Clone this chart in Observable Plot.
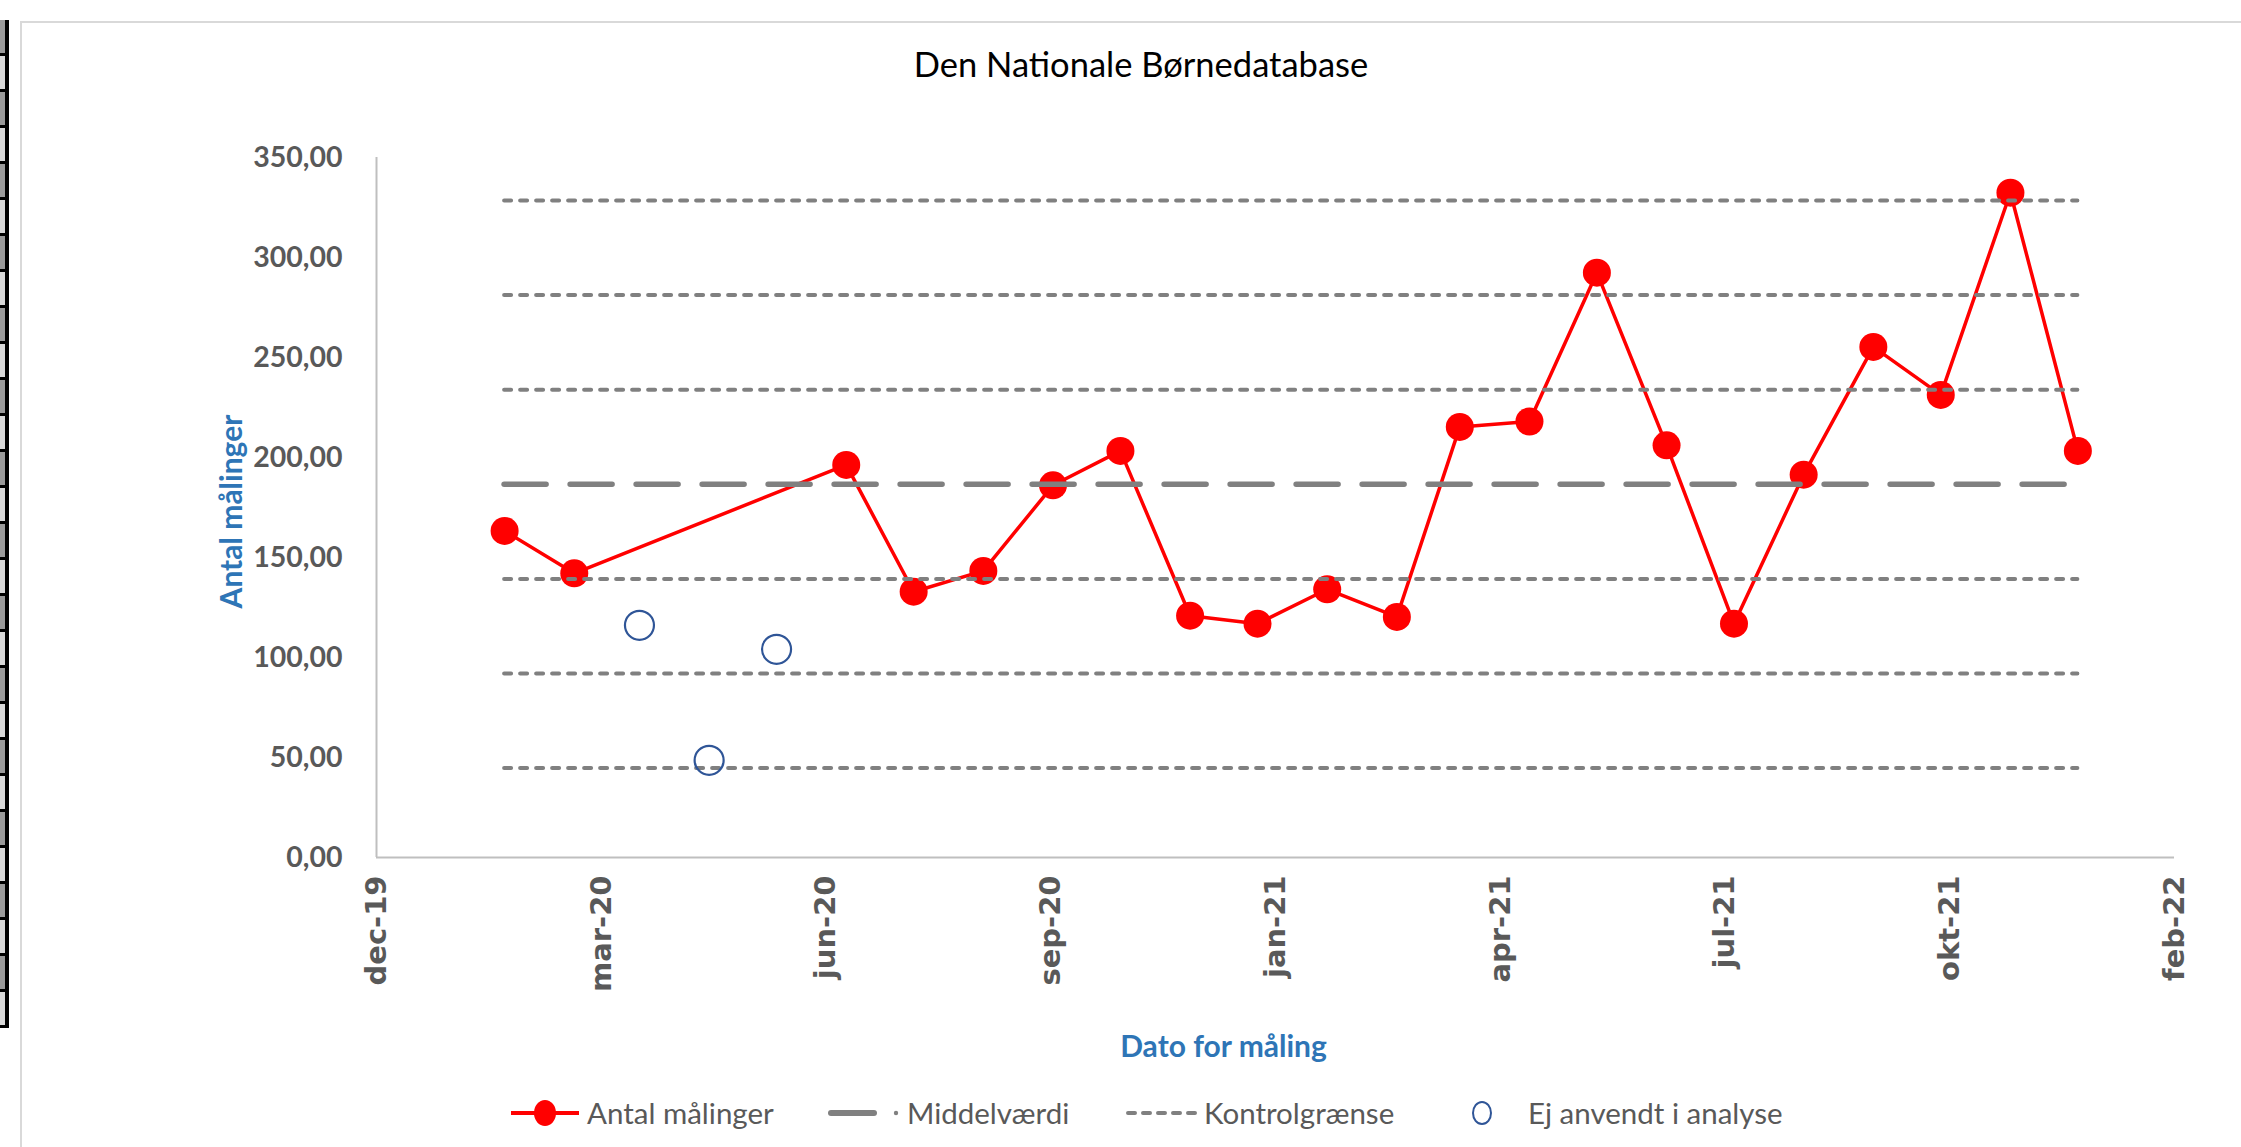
<!DOCTYPE html>
<html>
<head>
<meta charset="utf-8">
<script src="https://cdn.jsdelivr.net/npm/d3@7"></script>
<script src="https://cdn.jsdelivr.net/npm/@observablehq/plot@0.6"></script>
<style>
  html, body { margin: 0; padding: 0; background: #fff; overflow: hidden; }
  #page { position: relative; width: 2241px; height: 1147px; overflow: hidden; background: #fff; }
  #strip { position: absolute; left: 0; top: 20px; width: 9px; height: 1008px; background: #000; }
  #strip div { position: absolute; left: 0; width: 5px; height: 100%;
    background: repeating-linear-gradient(to bottom, #9a9a9a 0px, #9a9a9a 33px, #000 33px, #000 36px, #d8d8d8 36px, #d8d8d8 69px, #000 69px, #000 72px); }
  #frame { position: absolute; left: 20px; top: 21px; width: 2400px; height: 1300px; border: 2px solid #D9D9D9; box-sizing: border-box; }
  #title { position: absolute; left: 641px; width: 1000px; top: 47px; text-align: center;
    font-family: Lato, "Open Sans", sans-serif; font-size: 34.5px; line-height: 34.5px; color: #000; }
  #chart { position: absolute; left: 0; top: 0; }
  .lg { position: absolute; top: 1098px; font-family: Lato, "Open Sans", sans-serif; font-size: 29.5px; line-height: 29.5px; color: #595959; white-space: nowrap; }
  .sw { position: absolute; top: 1093px; }
</style>
</head>
<body>
<div id="page">
  <div id="strip"><div></div></div>
  <div id="frame"></div>
  <div id="title">Den Nationale Børnedatabase</div>
  <div id="chart"></div>
  <svg class="sw" style="left:505px" width="80" height="40"><line x1="6" y1="20" x2="74" y2="20" stroke="#FF0000" stroke-width="4"/><ellipse cx="40" cy="20" rx="11" ry="13" fill="#FF0000"/></svg>
  <div class="lg" style="left:587px">Antal målinger</div>
  <svg class="sw" style="left:825px" width="80" height="40"><line x1="6" y1="20" x2="49" y2="20" stroke="#808080" stroke-width="6" stroke-linecap="round"/><circle cx="71" cy="20" r="2.2" fill="#808080"/></svg>
  <div class="lg" style="left:907px">Middelværdi</div>
  <svg class="sw" style="left:1122px" width="80" height="40"><line x1="6" y1="20" x2="74" y2="20" stroke="#808080" stroke-width="4" stroke-linecap="round" stroke-dasharray="7,8"/></svg>
  <div class="lg" style="left:1204px">Kontrolgrænse</div>
  <svg class="sw" style="left:1462px" width="40" height="40"><ellipse cx="20" cy="20" rx="9" ry="11" fill="none" stroke="#2F5597" stroke-width="2"/></svg>
  <div class="lg" style="left:1528px">Ej anvendt i analyse</div>
</div>
<script>
// ---- data ----
const redDates = ["2020-01-27","2020-02-27","2020-06-27","2020-07-27","2020-08-27","2020-09-27","2020-10-27","2020-11-27","2020-12-27",
  "2021-01-27","2021-02-27","2021-03-27","2021-04-27","2021-05-27","2021-06-27","2021-07-27","2021-08-27","2021-09-27","2021-10-27","2021-11-27","2021-12-27"];
const redValues = [163.3,142.1,196.3,132.9,143.3,186.1,203.3,120.9,116.9,
  134.1,120.3,215.3,218.0,292.4,206.1,116.9,191.4,255.3,231.3,332.4,203.3];
const excludedDates = ["2020-03-27","2020-04-27","2020-05-27"];
const excludedValues = [116.1,48.6,104.1];
const meanValue = 186.6;
const controlValues = [44.7,92.0,139.3,233.9,281.2,328.5];
const xDomain = ["2019-12-01","2022-02-08"];
const xTicks = ["2019-12-01","2020-03-10","2020-06-18","2020-09-26","2021-01-04","2021-04-14","2021-07-23","2021-10-31","2022-02-08"];
const xTickLabels = ["dec-19","mar-20","jun-20","sep-20","jan-21","apr-21","jul-21","okt-21","feb-22"];
const yTicks = [0,50,100,150,200,250,300,350];
const seriesNames = ["Antal målinger","Middelværdi","Kontrolgrænse","Ej anvendt i analyse"];
const title = "Den Nationale Børnedatabase";
const xTitle = "Dato for måling";
const yTitle = "Antal målinger";

// ---- tables ----
const parse = d3.utcParse("%Y-%m-%d");
const red = redDates.map((d, i) => ({date: parse(d), value: redValues[i]}));
const excluded = excludedDates.map((d, i) => ({date: parse(d), value: excludedValues[i]}));
const tickDates = xTicks.map(parse);
const firstDate = red[0].date, lastDate = red[red.length - 1].date;
const xLabelOf = d => xTickLabels[tickDates.findIndex(t => +t === +d)];

const chart = Plot.plot({
  width: 2241,
  height: 1075,
  marginLeft: 376,
  marginRight: 67,
  marginTop: 157,
  marginBottom: 218,
  style: {background: "transparent", fontFamily: "Lato, 'Open Sans', sans-serif", overflow: "visible"},
  x: {type: "utc", domain: xDomain.map(parse)},
  y: {domain: [0, 350]},
  marks: [
    Plot.axisY({ticks: yTicks, tickSize: 0, tickPadding: 34, tickFormat: d => d.toFixed(2).replace(".", ","),
      fontSize: 28.5, fontWeight: "bold", fontFamily: "Lato, 'Open Sans', sans-serif", fill: "#595959", label: null}),
    Plot.axisX({ticks: tickDates, tickSize: 0, tickPadding: 18, tickRotate: -90, tickFormat: xLabelOf,
      fontSize: 29, fontWeight: "bold", fontFamily: "'DejaVu Sans', sans-serif", fill: "#595959", label: null}),
    Plot.ruleX([parse(xDomain[0])], {stroke: "#BFBFBF", strokeWidth: 2}),
    Plot.ruleY([0], {stroke: "#BFBFBF", strokeWidth: 2}),
    Plot.line(red, {x: "date", y: "value", stroke: "#FF0000", strokeWidth: 3.5}),
    Plot.dot(red, {x: "date", y: "value", r: 14, fill: "#FF0000", stroke: null}),
    Plot.ruleY([meanValue], {x1: firstDate, x2: lastDate, stroke: "#808080", strokeWidth: 5.5, strokeLinecap: "round", strokeDasharray: "42,24"}),
    Plot.ruleY(controlValues, {x1: firstDate, x2: lastDate, stroke: "#808080", strokeWidth: 4, strokeLinecap: "round", strokeDasharray: "7,9"}),
    Plot.dot(excluded, {x: "date", y: "value", r: 14.5, fill: "none", stroke: "#2F5597", strokeWidth: 2.2}),
    Plot.text([yTitle], {frameAnchor: "left", textAnchor: "middle", lineAnchor: "middle", rotate: -90, dx: -144, dy: 4, fontSize: 30, fontWeight: "bold", fill: "#2E75B6"}),
    Plot.text([xTitle], {frameAnchor: "bottom", textAnchor: "middle", lineAnchor: "middle", dy: 190, dx: -52, fontSize: 30, fontWeight: "bold", fill: "#2E75B6"})
  ]
});
document.getElementById("chart").appendChild(chart);
</script>
</body>
</html>
